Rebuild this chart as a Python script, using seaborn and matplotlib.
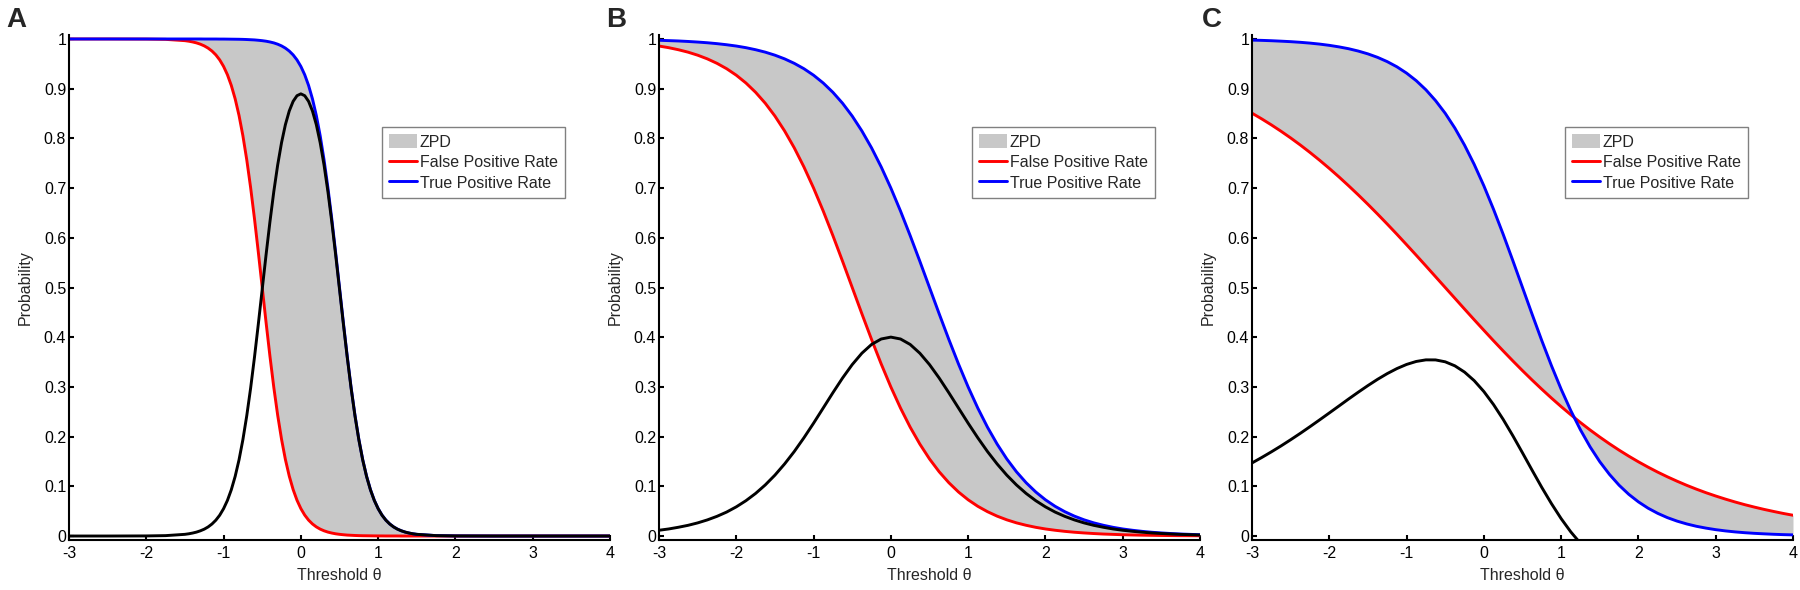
import matplotlib
matplotlib.use("Agg")
import matplotlib.pyplot as plt
import seaborn as sns
from matplotlib.patches import Patch
from matplotlib.lines import Line2D

# ---- panel A (steep curves, denser sampling in the middle) ----
x_a = [-3.0, -2.5, -2.0, -1.75,
       -1.5, -1.45, -1.4, -1.35, -1.3, -1.25, -1.2, -1.15, -1.1, -1.05,
       -1.0, -0.95, -0.9, -0.85, -0.8, -0.75, -0.7, -0.65, -0.6, -0.55,
       -0.5, -0.45, -0.4, -0.35, -0.3, -0.25, -0.2, -0.15, -0.1, -0.05,
       0.0, 0.05, 0.1, 0.15, 0.2, 0.25, 0.3, 0.35, 0.4, 0.45,
       0.5, 0.55, 0.6, 0.65, 0.7, 0.75, 0.8, 0.85, 0.9, 0.95,
       1.0, 1.05, 1.1, 1.15, 1.2, 1.25, 1.3, 1.35, 1.4, 1.45, 1.5,
       1.75, 2.0, 2.5, 3.0, 3.5, 4.0]
fpr_a = [1.0, 1.0, 0.9998, 0.9992,
         0.9966, 0.9955, 0.994, 0.9921, 0.9895, 0.9861, 0.9816, 0.9757, 0.968, 0.9579,
         0.9448, 0.928, 0.9065, 0.8795, 0.8461, 0.8053, 0.7569, 0.701, 0.6383, 0.5705,
         0.5, 0.4295, 0.3617, 0.299, 0.2431, 0.1947, 0.1539, 0.1205, 0.0935, 0.072,
         0.0552, 0.0421, 0.032, 0.0243, 0.0184, 0.0139, 0.0105, 0.0079, 0.006, 0.0045,
         0.0034, 0.0026, 0.0019, 0.0015, 0.0011, 0.0008, 0.0006, 0.0005, 0.0004, 0.0003,
         0.0002, 0.0002, 0.0001, 0.0001, 0.0001, 0.0001, 0.0, 0.0, 0.0, 0.0, 0.0,
         0.0, 0.0, 0.0, 0.0, 0.0, 0.0]
tpr_a = [1.0, 1.0, 1.0, 1.0,
         1.0, 1.0, 1.0, 1.0, 1.0, 0.9999, 0.9999, 0.9999, 0.9999, 0.9998,
         0.9998, 0.9997, 0.9996, 0.9995, 0.9994, 0.9992, 0.9989, 0.9985, 0.9981, 0.9974,
         0.9966, 0.9955, 0.994, 0.9921, 0.9895, 0.9861, 0.9816, 0.9757, 0.968, 0.9579,
         0.9448, 0.928, 0.9065, 0.8795, 0.8461, 0.8053, 0.7569, 0.701, 0.6383, 0.5705,
         0.5, 0.4295, 0.3617, 0.299, 0.2431, 0.1947, 0.1539, 0.1205, 0.0935, 0.072,
         0.0552, 0.0421, 0.032, 0.0243, 0.0184, 0.0139, 0.0105, 0.0079, 0.006, 0.0045, 0.0034,
         0.0008, 0.0002, 0.0, 0.0, 0.0, 0.0]
diff_a = [0.0, 0.0, 0.0002, 0.0008,
          0.0034, 0.0045, 0.006, 0.0079, 0.0105, 0.0138, 0.0183, 0.0242, 0.0319, 0.0419,
          0.055, 0.0717, 0.0931, 0.12, 0.1533, 0.1939, 0.242, 0.2975, 0.3598, 0.4269,
          0.4966, 0.566, 0.6323, 0.6931, 0.7464, 0.7914, 0.8277, 0.8552, 0.8745, 0.8859,
          0.8896, 0.8859, 0.8745, 0.8552, 0.8277, 0.7914, 0.7464, 0.6931, 0.6323, 0.566,
          0.4966, 0.4269, 0.3598, 0.2975, 0.242, 0.1939, 0.1533, 0.12, 0.0931, 0.0717,
          0.055, 0.0419, 0.0319, 0.0242, 0.0183, 0.0138, 0.0105, 0.0079, 0.006, 0.0045, 0.0034,
          0.0008, 0.0002, 0.0, 0.0, 0.0, 0.0]

# ---- panels B and C share one threshold grid ----
x_bc = [-3.0, -2.875, -2.75, -2.625, -2.5, -2.375, -2.25, -2.125,
        -2.0, -1.875, -1.75, -1.625, -1.5, -1.375, -1.25, -1.125,
        -1.0, -0.875, -0.75, -0.625, -0.5, -0.375, -0.25, -0.125,
        0.0, 0.125, 0.25, 0.375, 0.5, 0.625, 0.75, 0.875,
        1.0, 1.125, 1.25, 1.375, 1.5, 1.625, 1.75, 1.875,
        2.0, 2.125, 2.25, 2.375, 2.5, 2.625, 2.75, 2.875,
        3.0, 3.125, 3.25, 3.375, 3.5, 3.625, 3.75, 3.875, 4.0]

fpr_b = [0.9858, 0.9825, 0.9784, 0.9735, 0.9674, 0.96, 0.951, 0.9402,
         0.9271, 0.9114, 0.8927, 0.8707, 0.8449, 0.815, 0.781, 0.7426,
         0.7001, 0.6538, 0.6044, 0.5528, 0.5, 0.4472, 0.3956, 0.3462,
         0.2999, 0.2574, 0.219, 0.185, 0.1551, 0.1293, 0.1073, 0.0886,
         0.0729, 0.0598, 0.049, 0.04, 0.0326, 0.0265, 0.0216, 0.0175,
         0.0142, 0.0116, 0.0094, 0.0076, 0.0062, 0.005, 0.004, 0.0033,
         0.0026, 0.0021, 0.0017, 0.0014, 0.0011, 0.0009, 0.0007, 0.0006, 0.0005]
tpr_b = [0.9974, 0.9967, 0.996, 0.995, 0.9938, 0.9924, 0.9906, 0.9884,
         0.9858, 0.9825, 0.9784, 0.9735, 0.9674, 0.96, 0.951, 0.9402,
         0.9271, 0.9114, 0.8927, 0.8707, 0.8449, 0.815, 0.781, 0.7426,
         0.7001, 0.6538, 0.6044, 0.5528, 0.5, 0.4472, 0.3956, 0.3462,
         0.2999, 0.2574, 0.219, 0.185, 0.1551, 0.1293, 0.1073, 0.0886,
         0.0729, 0.0598, 0.049, 0.04, 0.0326, 0.0265, 0.0216, 0.0175,
         0.0142, 0.0116, 0.0094, 0.0076, 0.0062, 0.005, 0.004, 0.0033, 0.0026]
diff_b = [0.0116, 0.0142, 0.0176, 0.0215, 0.0264, 0.0324, 0.0396, 0.0482,
          0.0587, 0.0711, 0.0857, 0.1028, 0.1225, 0.145, 0.17, 0.1976,
          0.227, 0.2576, 0.2883, 0.3179, 0.3449, 0.3678, 0.3854, 0.3964,
          0.4002, 0.3964, 0.3854, 0.3678, 0.3449, 0.3179, 0.2883, 0.2576,
          0.227, 0.1976, 0.17, 0.145, 0.1225, 0.1028, 0.0857, 0.0711,
          0.0587, 0.0482, 0.0396, 0.0324, 0.0264, 0.0215, 0.0176, 0.0142,
          0.0116, 0.0095, 0.0077, 0.0062, 0.0051, 0.0041, 0.0033, 0.0027, 0.0021]

fpr_c = [0.8507, 0.8393, 0.8272, 0.8144, 0.8009, 0.7867, 0.7717, 0.756,
         0.7396, 0.7225, 0.7047, 0.6863, 0.6673, 0.6477, 0.6276, 0.6071,
         0.5861, 0.5649, 0.5434, 0.5217, 0.5, 0.4783, 0.4566, 0.4351,
         0.4139, 0.3929, 0.3724, 0.3523, 0.3327, 0.3137, 0.2953, 0.2775,
         0.2604, 0.244, 0.2283, 0.2133, 0.1991, 0.1856, 0.1728, 0.1607,
         0.1493, 0.1386, 0.1285, 0.1191, 0.1103, 0.102, 0.0943, 0.0871,
         0.0805, 0.0743, 0.0685, 0.0631, 0.0582, 0.0536, 0.0494, 0.0454, 0.0418]
tpr_c = [0.9977, 0.9972, 0.9965, 0.9956, 0.9946, 0.9933, 0.9917, 0.9897,
         0.9872, 0.9841, 0.9804, 0.9757, 0.97, 0.963, 0.9544, 0.944,
         0.9313, 0.9161, 0.8978, 0.876, 0.8505, 0.8207, 0.7864, 0.7477,
         0.7046, 0.6574, 0.607, 0.5541, 0.5, 0.4459, 0.393, 0.3426,
         0.2954, 0.2523, 0.2136, 0.1793, 0.1495, 0.124, 0.1022, 0.0839,
         0.0687, 0.056, 0.0456, 0.037, 0.03, 0.0243, 0.0196, 0.0159,
         0.0128, 0.0103, 0.0083, 0.0067, 0.0054, 0.0044, 0.0035, 0.0028, 0.0023]
diff_c = [0.147, 0.1579, 0.1693, 0.1812, 0.1937, 0.2066, 0.22, 0.2337,
          0.2476, 0.2616, 0.2757, 0.2894, 0.3027, 0.3153, 0.3268, 0.3369,
          0.3452, 0.3512, 0.3544, 0.3543, 0.3505, 0.3424, 0.3298, 0.3126,
          0.2907, 0.2645, 0.2346, 0.2018, 0.1673, 0.1322, 0.0977, 0.0651,
          0.035, 0.0083, -0.0147, -0.034, -0.0496, -0.0616, -0.0706, -0.0768,
          -0.0806, -0.0826, -0.0829, -0.0821, -0.0803, -0.0777, -0.0747, -0.0712,
          -0.0677, -0.064, -0.0602, -0.0564, -0.0528, -0.0492, -0.0459, -0.0426, -0.0395]

panels = [
    ("A", x_a, fpr_a, tpr_a, diff_a),
    ("B", x_bc, fpr_b, tpr_b, diff_b),
    ("C", x_bc, fpr_c, tpr_c, diff_c),
]

sns.set_style("ticks")
plt.rcParams['font.family'] = ['Liberation Sans', 'DejaVu Sans']

fig = plt.figure(figsize=(18, 5.9), dpi=100)
lefts = [69, 659, 1252]
letter_x = [6, 606, 1202]
ZPD_COLOR = '#c8c8c8'

for (letter, x, fpr, tpr, diff), left, lx in zip(panels, lefts, letter_x):
    ax = fig.add_axes([left / 1800, 50 / 590, 541 / 1800, 505 / 590])
    ax.fill_between(x, fpr, tpr, color=ZPD_COLOR, linewidth=0)
    sns.lineplot(x=x, y=fpr, ax=ax, color='red', linewidth=2.1, sort=False, estimator=None)
    sns.lineplot(x=x, y=tpr, ax=ax, color='blue', linewidth=2.1, sort=False, estimator=None)
    sns.lineplot(x=x, y=diff, ax=ax, color='black', linewidth=2.1, sort=False, estimator=None)

    ax.set_xlim(-3, 4)
    ax.set_ylim(-0.008, 1.008)
    ax.set_xticks(range(-3, 5))
    ax.set_xticklabels([str(v) for v in range(-3, 5)])
    ax.set_yticks([i / 10 for i in range(11)])
    ax.set_yticklabels(['0'] + ['0.%d' % i for i in range(1, 10)] + ['1'])

    for s in ['top', 'right']:
        ax.spines[s].set_visible(False)
    for s in ['left', 'bottom']:
        ax.spines[s].set_linewidth(1.5)
        ax.spines[s].set_color('black')
    ax.tick_params(direction='in', length=3.5, width=1.5, labelsize=11.5, colors='black')
    ax.tick_params(axis='x', pad=4)
    ax.tick_params(axis='y', pad=2)

    ax.set_xlabel('Threshold θ', fontsize=11.5, labelpad=5)
    ax.set_ylabel('Probability', fontsize=11.5, labelpad=8)

    handles = [
        Patch(facecolor=ZPD_COLOR, edgecolor='none', label='ZPD'),
        Line2D([], [], color='red', linewidth=2.1, label='False Positive Rate'),
        Line2D([], [], color='blue', linewidth=2.1, label='True Positive Rate'),
    ]
    leg = ax.legend(handles=handles, loc='upper right', bbox_to_anchor=(0.9168, 0.8178),
                    fontsize=11.5, frameon=True, fancybox=False, framealpha=1,
                    edgecolor='#808080', handlelength=1.7, handleheight=1.0,
                    handletextpad=0.2, borderpad=0.45, labelspacing=0.3,
                    borderaxespad=0)
    leg.get_frame().set_linewidth(1.0)

    fig.text(lx / 1800, 1 - 27 / 590, letter, fontsize=20, fontweight='bold',
             ha='left', va='baseline')

fig.savefig('out.png', dpi=100)
